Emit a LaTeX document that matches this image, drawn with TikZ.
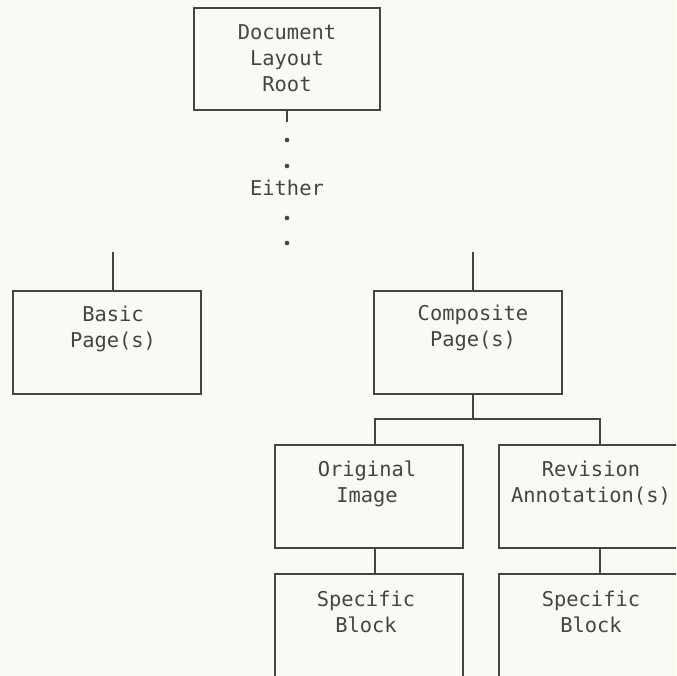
\documentclass[tikz,border=0pt]{standalone}
\usepackage{fontspec}
\newfontfamily\plotfont{DejaVu Sans Mono}
\definecolor{paper}{RGB}{250,250,244}
\definecolor{ink}{RGB}{68,68,68}
\tikzset{every picture/.style={line width=1.2pt}}
\tikzset{
  layoutbox/.style={draw=ink, rectangle, inner sep=0pt, minimum width=141pt, minimum height=77.25pt},
  boxtext/.style={text=ink, align=center, inner sep=0.75pt, font=\plotfont\fontsize{15.3}{19.5}\selectfont},
}

\begin{document}
\begin{tikzpicture}[x=0.75pt,y=0.75pt,yscale=-1,xscale=1]
%set diagram to 676 x 676
\useasboundingbox (0,0) rectangle (676,676);
\fill [paper] (0,0) rectangle (676,676);
\clip (0,0) rectangle (676,676);

%Shape: Rectangle [root]
\node [layoutbox, minimum width=139.5pt, minimum height=76.5pt] (root) at (287,59) {};
%Shape: Rectangle [basic]
\node [layoutbox] (basic) at (107,342.5) {};
%Shape: Rectangle [composite]
\node [layoutbox] (comp) at (468,342.5) {};
%Shape: Rectangle [original image]
\node [layoutbox] (orig) at (369,496.5) {};
%Shape: Rectangle [revision annotations] runs off the right edge
\node [layoutbox, minimum width=150pt] (rev) at (599,496.5) {};
%Shape: Rectangle [specific blocks]
\node [layoutbox] (specl) at (369,625.5) {};
\node [layoutbox, minimum width=150pt] (specr) at (599,625.5) {};

%Coordinates for the stubs and the bus
\coordinate (rootstub) at (287,122);
\coordinate (basicstub) at (113,252);
\coordinate (compstub) at (473,252);
\coordinate (busmid) at (473,419);
\coordinate (busleft) at (375,419);
\coordinate (busright) at (600,419);

%Straight Lines
\draw [ink] (root) -- (rootstub);
\draw [ink] (basicstub) -- (basicstub |- basic.north);
\draw [ink] (compstub) -- (compstub |- comp.north);
\draw [ink] (comp.south -| busmid) -- (busmid);
\draw [ink] (orig.north -| busleft) -- (busleft) -- (busright) -- (rev.north -| busright);
\draw [ink] (orig.south -| busleft) -- (specl.north -| busleft);
\draw [ink] (rev.south -| busright) -- (specr.north -| busright);

%Dots
\foreach \y in {140,166,218,243}
  \fill [ink] (287,\y) circle [radius=2.3];

% Text Node
\node [boxtext] (roottxt) at (287,58) {Document\\Layout\\Root};
% Text Node
\node [boxtext] (either) at (287,188) {Either};
% Text Node
\node [boxtext] (basictxt) at (113,328.5) {Basic\\Page(s)};
% Text Node
\node [boxtext] (comptxt) at (473,328) {Composite\\Page(s)};
% Text Node
\node [boxtext] (origtxt) at (367,483.5) {Original\\Image};
% Text Node
\node [boxtext] (revtxt) at (591,483.5) {Revision\\Annotation(s)};
% Text Node
\node [boxtext] (specltxt) at (366,612) {Specific\\Block};
% Text Node
\node [boxtext] (specrtxt) at (591,612) {Specific\\Block};

\end{tikzpicture}
\end{document}
